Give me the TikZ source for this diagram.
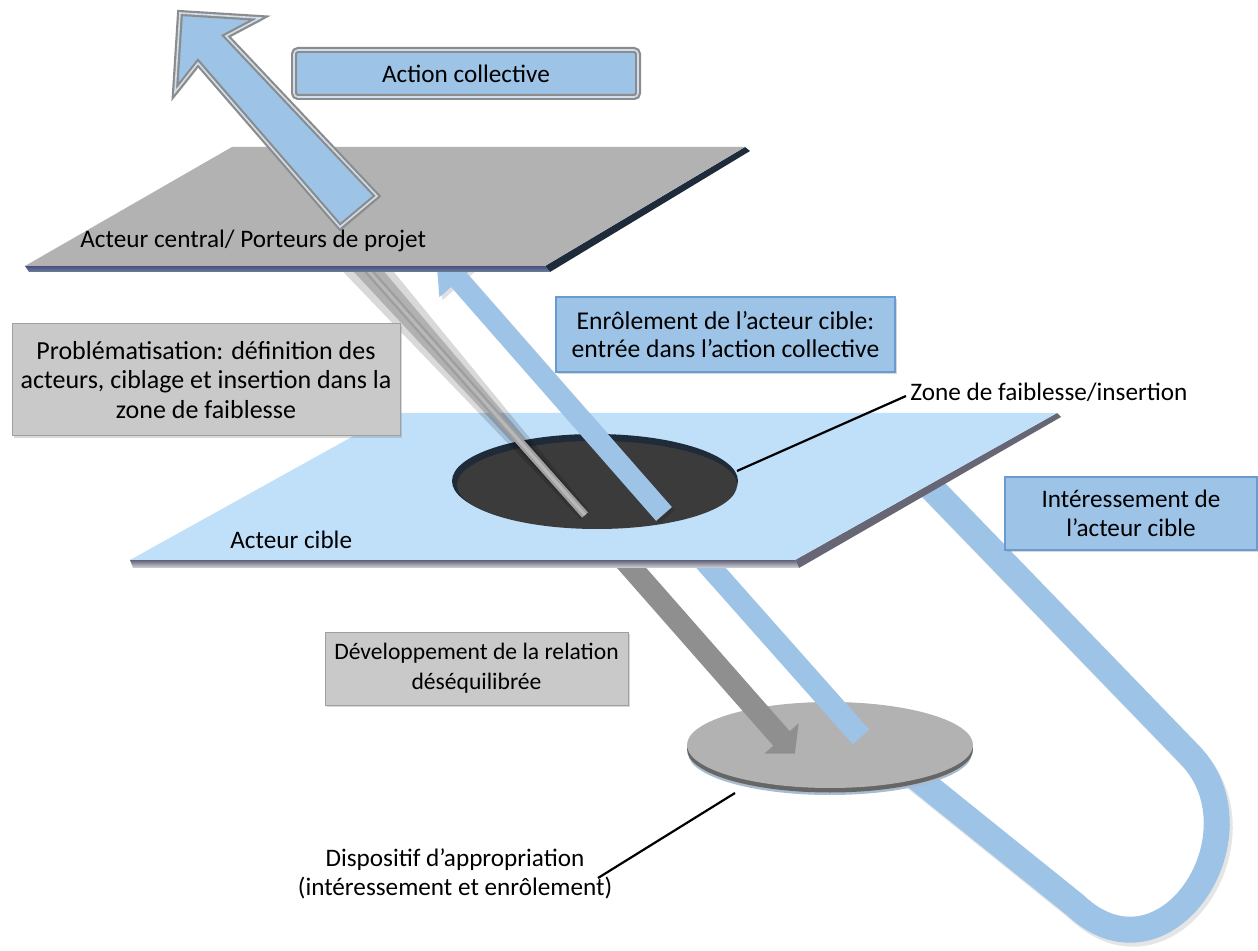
\documentclass[tikz,border=0pt]{standalone}
\usepackage{fontspec}
\setmainfont{Carlito}
\usetikzlibrary{shadows,calc}
\definecolor{pblue}{HTML}{9DC3E6}
\definecolor{planegray}{HTML}{B2B2B2}
\definecolor{planeblue}{HTML}{C0E0FA}
\definecolor{boxgray}{HTML}{C9C9C9}
\definecolor{holegray}{HTML}{3B3B3B}
\definecolor{holerim}{HTML}{1F2B38}
\definecolor{arrowgray}{HTML}{8F8F8F}
\definecolor{navy}{HTML}{1D2B3B}
\definecolor{frame}{HTML}{8C8C8C}
\definecolor{framein}{HTML}{D0DFF0}
\definecolor{blueborder}{HTML}{6A9BD0}
\definecolor{diskunder}{HTML}{A9BCCF}
\tikzset{
  txt/.style={font=\fontsize{12.6}{14.8}\selectfont, align=center, inner sep=0pt},
  graybox/.style={txt, fill=boxgray, draw=gray!75, line width=0.5pt,
    drop shadow={opacity=0.3, shadow xshift=1.2pt, shadow yshift=-1.2pt}},
  bluebox/.style={txt, fill=pblue, draw=blueborder, line width=0.6pt,
    drop shadow={opacity=0.3, shadow xshift=1.2pt, shadow yshift=-1.2pt}},
  framed/.style={fill=pblue, draw=frame, double=framein, double distance=0.8pt,
    line width=1.1pt, drop shadow={opacity=0.3, shadow xshift=1.2pt, shadow yshift=-1.2pt}},
  callout/.style={draw=black, line width=1.1pt},
  bluebar/.style={draw=pblue, line cap=butt},
}
\begin{document}
\begin{tikzpicture}[x=0.5pt,y=-0.5pt]
\useasboundingbox (0,0) rectangle (1258,951);
\fill[white] (0,0) rectangle (1258,951);

% ---- Interessement loop (under everything)
\draw[line width=13pt, black, opacity=0.10, line join=round]
  (898,454) -- (1193,759) .. controls (1269,839) and (1168,994) .. (1078,909) -- (873,744);
\draw[bluebar, line width=13pt, line join=round]
  (895,450) -- (1190,755) .. controls (1266,835) and (1165,990) .. (1075,905) -- (870,740);

% ---- Disk (dispositif)
\fill[diskunder] (830,753) ellipse [x radius=142, y radius=42];
\fill[fill=black!60] (830,749.5) ellipse [x radius=143, y radius=43];
\fill[planegray] (830,745) ellipse [x radius=143, y radius=43];
\coordinate (diskedge) at (735,793);

% ---- lower gray arrow (developpement)
\fill[arrowgray] (608.2,524.7) -- (789.7,731.2) -- (798.7,723.3) -- (794.8,753.5)
  -- (764.3,753.7) -- (773.3,745.8) -- (591.8,539.3) -- cycle;
% ---- lower blue bar
\draw[bluebar, line width=11pt] (680,533) -- (861,737);

% ---- middle plane (acteur cible)
\fill[black!70!blue!20!gray] (795,560) -- (1057,413) -- (1061,417) -- (799,568) -- cycle;
\shade[top color=black!60!blue!25!gray, bottom color=blue!8!gray!30] (130,560) -- (795,560) -- (799,568) -- (133,568) -- cycle;
\fill[planeblue] (395,413) -- (1057,413) -- (795,560) -- (130,560) -- cycle;

% ---- hole
\fill[holerim] (595,481) ellipse [x radius=143, y radius=47];
\fill[holegray] (597,485) ellipse [x radius=140, y radius=44];
\coordinate (holeedge) at (737,471);

% ---- upper gray band (problematisation)
\fill[black, opacity=0.15] (365,236.7) -- (589.5,511) -- (580.5,519) -- (335,263.3) -- cycle;
\fill[black, opacity=0.18] (359,242) -- (588,512.3) -- (582,517.7) -- (341,258) -- cycle;
\draw[line width=4pt, color=black!38] (350,250) -- (585,515);
\draw[line width=1.6pt, color=black!28] (350,250) -- (585,515);

% ---- upper blue arrow (enrolement)
\fill[black, opacity=0.12] (674.9,510.1) -- (469.9,276.2) -- (481.6,266) -- (439,256.8) -- (442.4,300.2) -- (454.1,290) -- (659.1,523.9) -- cycle;
\fill[pblue] (671.9,507.1) -- (466.9,273.2) -- (478.6,263) -- (436,253.8) -- (439.4,297.2) -- (451.1,287) -- (656.1,520.9) -- cycle;

% ---- top plane (acteur central)
\fill[navy] (545,266) -- (745,147) -- (750,151) -- (550,272) -- cycle;
\shade[top color=blue!30!black!70!white, bottom color=blue!45!cyan!20!gray] (25,266) -- (545,266) -- (550,272) -- (29,272) -- cycle;
\fill[planegray] (232,147) -- (745,147) -- (545,266) -- (25,266) -- cycle;

% ---- big arrow (action collective)
\draw[framed, line join=miter] (180,13) -- (260,18) -- (226,36) -- (377,196) -- (340,227) -- (198,63) -- (175,92) -- cycle;

% ---- boxes
\node[framed, txt, rounded corners=2pt, minimum width=172pt, minimum height=23.5pt] (act) at (466,73.5) {Action collective};
\node[graybox, font=\fontsize{13}{14.8}\selectfont, minimum width=194pt, minimum height=56pt] (prob) at (206,380)
  {Problématisation: définition des\\acteurs, ciblage et insertion dans la\\zone de faiblesse};
\node[bluebox, font=\fontsize{12.8}{14.2}\selectfont, minimum width=169.5pt, minimum height=37.5pt] (enrol) at (725.5,334.5)
  {Enrôlement de l’acteur cible:\\entrée dans l’action collective};
\node[bluebox, minimum width=126pt, minimum height=36.5pt] (inter) at (1131,513.5)
  {Intéressement de\\l’acteur cible};
\node[graybox, font=\fontsize{11.8}{14.8}\selectfont, minimum width=151.5pt, minimum height=36.5pt] (dev) at (476.5,668.5)
  {Développement de la relation\\déséquilibrée};

% ---- labels
\node[txt, anchor=west] (central) at (80,241) {Acteur central/ Porteurs de projet};
\node[txt, anchor=west] (cible) at (230,540) {Acteur cible};
\node[txt, anchor=west] (zone) at (910,392) {Zone de faiblesse/insertion};
\node[txt] (disp) at (455,874) {Dispositif d’appropriation\\(intéressement et enrôlement)};
\coordinate (dispend) at (598,878);

% ---- callout lines
\draw[callout] (holeedge) -- ([xshift=-2pt,yshift=-2pt]zone.west);
\draw[callout] (dispend) -- (diskedge);
\end{tikzpicture}
\end{document}
